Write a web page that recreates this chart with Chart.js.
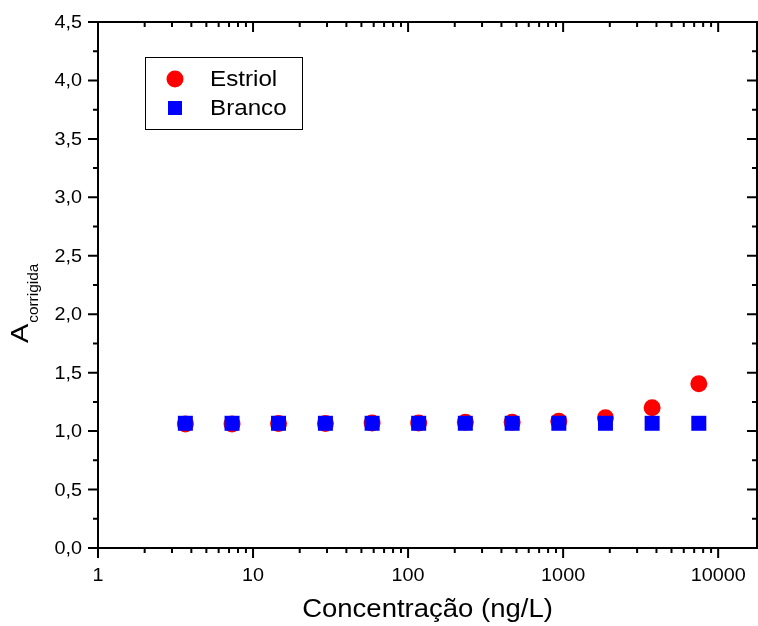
<!DOCTYPE html>
<html>
<head>
<meta charset="utf-8">
<script src="https://cdn.jsdelivr.net/npm/chart.js@4.4.0/dist/chart.umd.min.js"></script>
<style>
html,body{margin:0;padding:0;background:#fff;}
#wrap{width:758px;height:626px;}
</style>
</head>
<body>
<div id="wrap"><canvas id="c" width="758" height="626"></canvas></div>
<script>
// ---- data ----
const concentrations = [3.66, 7.32, 14.6, 29.3, 58.6, 117, 234, 469, 938, 1875, 3750, 7500];
const estriolValues  = [1.06, 1.06, 1.065, 1.065, 1.07, 1.07, 1.075, 1.075, 1.085, 1.115, 1.20, 1.405];
const brancoValues   = [1.067, 1.067, 1.067, 1.067, 1.067, 1.067, 1.067, 1.067, 1.067, 1.067, 1.067, 1.067];
const seriesNames    = ['Estriol', 'Branco'];
const xTickValues    = [1, 10, 100, 1000, 10000];
const xTickLabels    = ['1', '10', '100', '1000', '10000'];
const yTickValues    = [0, 0.5, 1, 1.5, 2, 2.5, 3, 3.5, 4, 4.5];
const yTickLabels    = ['0,0', '0,5', '1,0', '1,5', '2,0', '2,5', '3,0', '3,5', '4,0', '4,5'];
const xTitle = 'Concentração (ng/L)';
const yTitleMain = 'A';
const yTitleSub = 'corrigida';

const FONT = '"Liberation Sans", Arial, sans-serif';
const STRETCH = 1.1;

function wideText(ctx, str, x, y, sx) {
  ctx.save();
  ctx.translate(x, y);
  ctx.scale(sx, 1);
  ctx.fillText(str, 0, 0);
  ctx.restore();
}

const framePlugin = {
  id: 'frame',
  afterDraw(chart) {
    const ctx = chart.ctx;
    const a = chart.chartArea;
    const xs = chart.scales.x, ys = chart.scales.y;
    ctx.save();
    ctx.strokeStyle = '#000';
    ctx.lineWidth = 2;
    ctx.strokeRect(a.left, a.top, a.right - a.left, a.bottom - a.top);

    // x ticks (major + minor)
    const xmin = xs.min, xmax = xs.max;
    for (let d = 1; d <= 100000; d *= 10) {
      for (let m = 1; m <= 9; m++) {
        const v = d * m;
        if (v < xmin - 1e-9 || v > xmax) continue;
        const px = xs.getPixelForValue(v);
        const len = (m === 1) ? 10 : 5;
        ctx.beginPath();
        ctx.moveTo(px, a.bottom); ctx.lineTo(px, a.bottom + len);
        ctx.moveTo(px, a.top); ctx.lineTo(px, a.top + len);
        ctx.stroke();
      }
    }
    // y ticks
    for (let i = 0; i < yTickValues.length; i++) {
      const py = ys.getPixelForValue(yTickValues[i]);
      ctx.beginPath();
      ctx.moveTo(a.left, py); ctx.lineTo(a.left - 10, py);
      ctx.moveTo(a.right, py); ctx.lineTo(a.right - 10, py);
      ctx.stroke();
      if (i < yTickValues.length - 1) {
        const pm = ys.getPixelForValue((yTickValues[i] + yTickValues[i + 1]) / 2);
        ctx.beginPath();
        ctx.moveTo(a.left, pm); ctx.lineTo(a.left - 5, pm);
        ctx.moveTo(a.right, pm); ctx.lineTo(a.right - 5, pm);
        ctx.stroke();
      }
    }
    // tick labels
    ctx.fillStyle = '#000';
    ctx.font = '18px ' + FONT;
    ctx.textAlign = 'right';
    ctx.textBaseline = 'middle';
    yTickValues.forEach((v, i) => {
      wideText(ctx, yTickLabels[i], a.left - 16, ys.getPixelForValue(v) + 1, STRETCH);
    });
    ctx.textAlign = 'center';
    xTickValues.forEach((v, i) => {
      wideText(ctx, xTickLabels[i], xs.getPixelForValue(v), a.bottom + 28, STRETCH);
    });
    // x title
    ctx.font = '25px ' + FONT;
    wideText(ctx, xTitle, (a.left + a.right) / 2, 610, STRETCH);
    // y title rotated
    ctx.save();
    ctx.translate(28, 343);
    ctx.rotate(-Math.PI / 2);
    ctx.textAlign = 'left';
    ctx.textBaseline = 'alphabetic';
    ctx.font = '24px ' + FONT;
    wideText(ctx, yTitleMain, 0, 0, 1.2);
    const w = ctx.measureText(yTitleMain).width * 1.2;
    ctx.font = '14px ' + FONT;
    wideText(ctx, yTitleSub, w + 1, 10, STRETCH);
    ctx.restore();

    // legend
    ctx.lineWidth = 1;
    ctx.strokeStyle = '#000';
    ctx.strokeRect(145.5, 57.5, 157, 72);
    ctx.font = '22px ' + FONT;
    ctx.textAlign = 'left';
    ctx.textBaseline = 'middle';
    const rows = [79, 108];
    chart.data.datasets.forEach((ds, i) => {
      const y = rows[i];
      ctx.fillStyle = ds.backgroundColor;
      if (ds.pointStyle === 'circle') {
        ctx.beginPath(); ctx.arc(175, y, 8.5, 0, Math.PI * 2); ctx.fill();
      } else {
        ctx.fillRect(168, y - 7, 14, 14);
      }
      ctx.fillStyle = '#000';
      wideText(ctx, ds.label, 210, y + 1, STRETCH);
    });
    ctx.restore();
  }
};

new Chart(document.getElementById('c'), {
  type: 'scatter',
  data: {
    datasets: [
      {
        label: seriesNames[0],
        data: concentrations.map((c, i) => ({x: c, y: estriolValues[i]})),
        backgroundColor: '#ff0000',
        borderColor: '#ff0000',
        borderWidth: 0,
        pointStyle: 'circle',
        pointRadius: 8.5,
        pointHoverRadius: 8.5,
        order: 2
      },
      {
        label: seriesNames[1],
        data: concentrations.map((c, i) => ({x: c, y: brancoValues[i]})),
        backgroundColor: '#0000ff',
        borderColor: '#0000ff',
        borderWidth: 0,
        pointStyle: 'rect',
        pointRadius: 10.6,
        pointHoverRadius: 10.6,
        order: 1
      }
    ]
  },
  options: {
    responsive: false,
    devicePixelRatio: 1,
    animation: false,
    layout: { autoPadding: false, padding: { left: 98, top: 22, right: 1, bottom: 78 } },
    plugins: { legend: { display: false }, tooltip: { enabled: false } },
    scales: {
      x: { type: 'logarithmic', min: 1, max: 17800, display: false },
      y: { type: 'linear', min: 0, max: 4.5, display: false }
    }
  },
  plugins: [framePlugin]
});
</script>
</body>
</html>
